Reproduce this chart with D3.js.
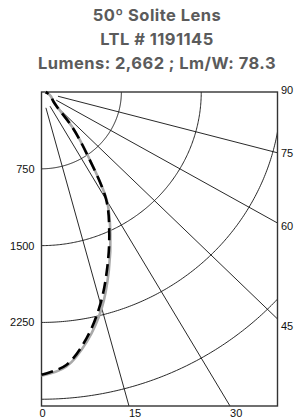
<!DOCTYPE html>
<html>
<head>
<meta charset="utf-8">
<script src="https://cdn.jsdelivr.net/npm/d3@7"></script>
<style>
  html, body { margin: 0; padding: 0; background: #fff; }
  svg { display: block; }
</style>
</head>
<body>
<div id="chart"></div>
<script>
// Title lines
const titleLines = ["50º Solite Lens", "LTL # 1191145", "Lumens: 2,662 ; Lm/W: 78.3"];

// Vertical angles (degrees) and candela values
const angles = [0, 5, 10, 15, 20, 25, 30, 35, 40, 45, 50, 55, 60, 65, 70, 75, 80, 85, 90];
const candelaGrey = [2770, 2690, 2470, 2185, 1850, 1530, 1230, 760, 460, 215, 150, 125, 110, 95, 80, 65, 50, 40, 32];
const candelaBlack = [2760, 2675, 2440, 2140, 1810, 1505, 1215, 750, 455, 210, 148, 124, 110, 95, 82, 68, 55, 45, 38];

// Grid
const candelaTicks = [750, 1500, 2250, 3000];
const candelaLabels = [750, 1500, 2250];
const angleTicks = [15, 30, 45, 60, 75];
const bottomLabels = [0, 15, 30];
const rightLabels = [45, 60, 75, 90];

const width = 295;
const height = 419;
const boxL = 41.5, boxT = 92, boxR = 277.5, boxB = 406;

// candela -> pixels (x stretched slightly relative to y, as in the picture)
const x = d3.scaleLinear().domain([0, 2216]).range([boxL, boxR]);
const y = d3.scaleLinear().domain([0, 3066]).range([boxT, boxB]);
const rad = d => d * Math.PI / 180;

const svg = d3.select("#chart").append("svg")
    .attr("width", width)
    .attr("height", height)
    .attr("viewBox", [0, 0, width, height]);

// title
svg.append("g").selectAll("text")
  .data(titleLines)
  .join("text")
    .attr("x", 157)
    .attr("y", (d, i) => 21 + i * 24)
    .attr("text-anchor", "middle")
    .attr("font-family", "Inter, 'Open Sans', sans-serif")
    .attr("font-weight", 700)
    .attr("font-size", 16.5)
    .attr("letter-spacing", 0.45)
    .attr("fill", "#5b5b5b")
    .text(d => d);

svg.append("clipPath").attr("id", "box")
  .append("rect")
    .attr("x", boxL).attr("y", boxT)
    .attr("width", boxR - boxL).attr("height", boxB - boxT);

const grid = svg.append("g").attr("clip-path", "url(#box)");

// candela arcs
const arc = d3.line().x(p => p[0]).y(p => p[1]);
grid.selectAll(".arc")
  .data(candelaTicks)
  .join("path")
    .attr("class", "arc")
    .attr("fill", "none")
    .attr("stroke", "#111")
    .attr("stroke-width", 0.9)
    .attr("d", c => arc(d3.range(0, 90.5, 0.5).map(a => [x(c * Math.sin(rad(a))), y(c * Math.cos(rad(a)))])));

// radial angle lines
grid.selectAll(".ray")
  .data(angleTicks)
  .join("line")
    .attr("class", "ray")
    .attr("stroke", "#111")
    .attr("stroke-width", 0.9)
    .attr("x1", a => x(160 * Math.sin(rad(a))))
    .attr("y1", a => y(160 * Math.cos(rad(a))))
    .attr("x2", a => x(6000 * Math.sin(rad(a))))
    .attr("y2", a => y(6000 * Math.cos(rad(a))));

// frame
svg.append("rect")
    .attr("x", boxL).attr("y", boxT)
    .attr("width", boxR - boxL).attr("height", boxB - boxT)
    .attr("fill", "none")
    .attr("stroke", "#333")
    .attr("stroke-width", 1.4);

// left axis labels
const yAxis = svg.append("g")
    .attr("transform", `translate(${boxL},0)`)
    .call(d3.axisLeft(y).tickValues(candelaLabels).tickFormat(d3.format("d")).tickSize(0).tickPadding(7));
yAxis.select(".domain").remove();
yAxis.selectAll("text")
    .attr("font-family", "'Liberation Sans', Arial, sans-serif")
    .attr("font-size", 11)
    .attr("fill", "#111");

// bottom angle labels (start where each ray meets the bottom edge)
const bottomDomain = y.invert(boxB);
svg.append("g").selectAll("text")
  .data(bottomLabels)
  .join("text")
    .attr("x", a => x(bottomDomain * Math.tan(rad(a))) - (a === 0 ? 2 : 0))
    .attr("y", 417)
    .attr("font-family", "'Liberation Sans', Arial, sans-serif")
    .attr("font-size", 11)
    .attr("fill", "#111")
    .text(a => a);

// right angle labels
svg.append("g").selectAll("text")
  .data(rightLabels)
  .join("text")
    .attr("x", boxR + 3.5)
    .attr("y", a => boxT + (boxR - boxL) / Math.tan(rad(a)) + 2)
    .attr("font-family", "'Liberation Sans', Arial, sans-serif")
    .attr("font-size", 11)
    .attr("fill", "#111")
    .text(a => a);

// photometric curves
const curve = d3.line()
    .x((d, i) => x(d * Math.sin(rad(angles[i]))))
    .y((d, i) => y(d * Math.cos(rad(angles[i]))))
    .curve(d3.curveCatmullRom);

svg.append("path")
    .attr("d", curve(candelaGrey))
    .attr("fill", "none")
    .attr("stroke", "#a9a9a9")
    .attr("stroke-width", 2.6);

svg.append("path")
    .attr("d", curve(candelaBlack))
    .attr("fill", "none")
    .attr("stroke", "#000")
    .attr("stroke-width", 2.6)
    .attr("stroke-dasharray", "12,6");
</script>
</body>
</html>
